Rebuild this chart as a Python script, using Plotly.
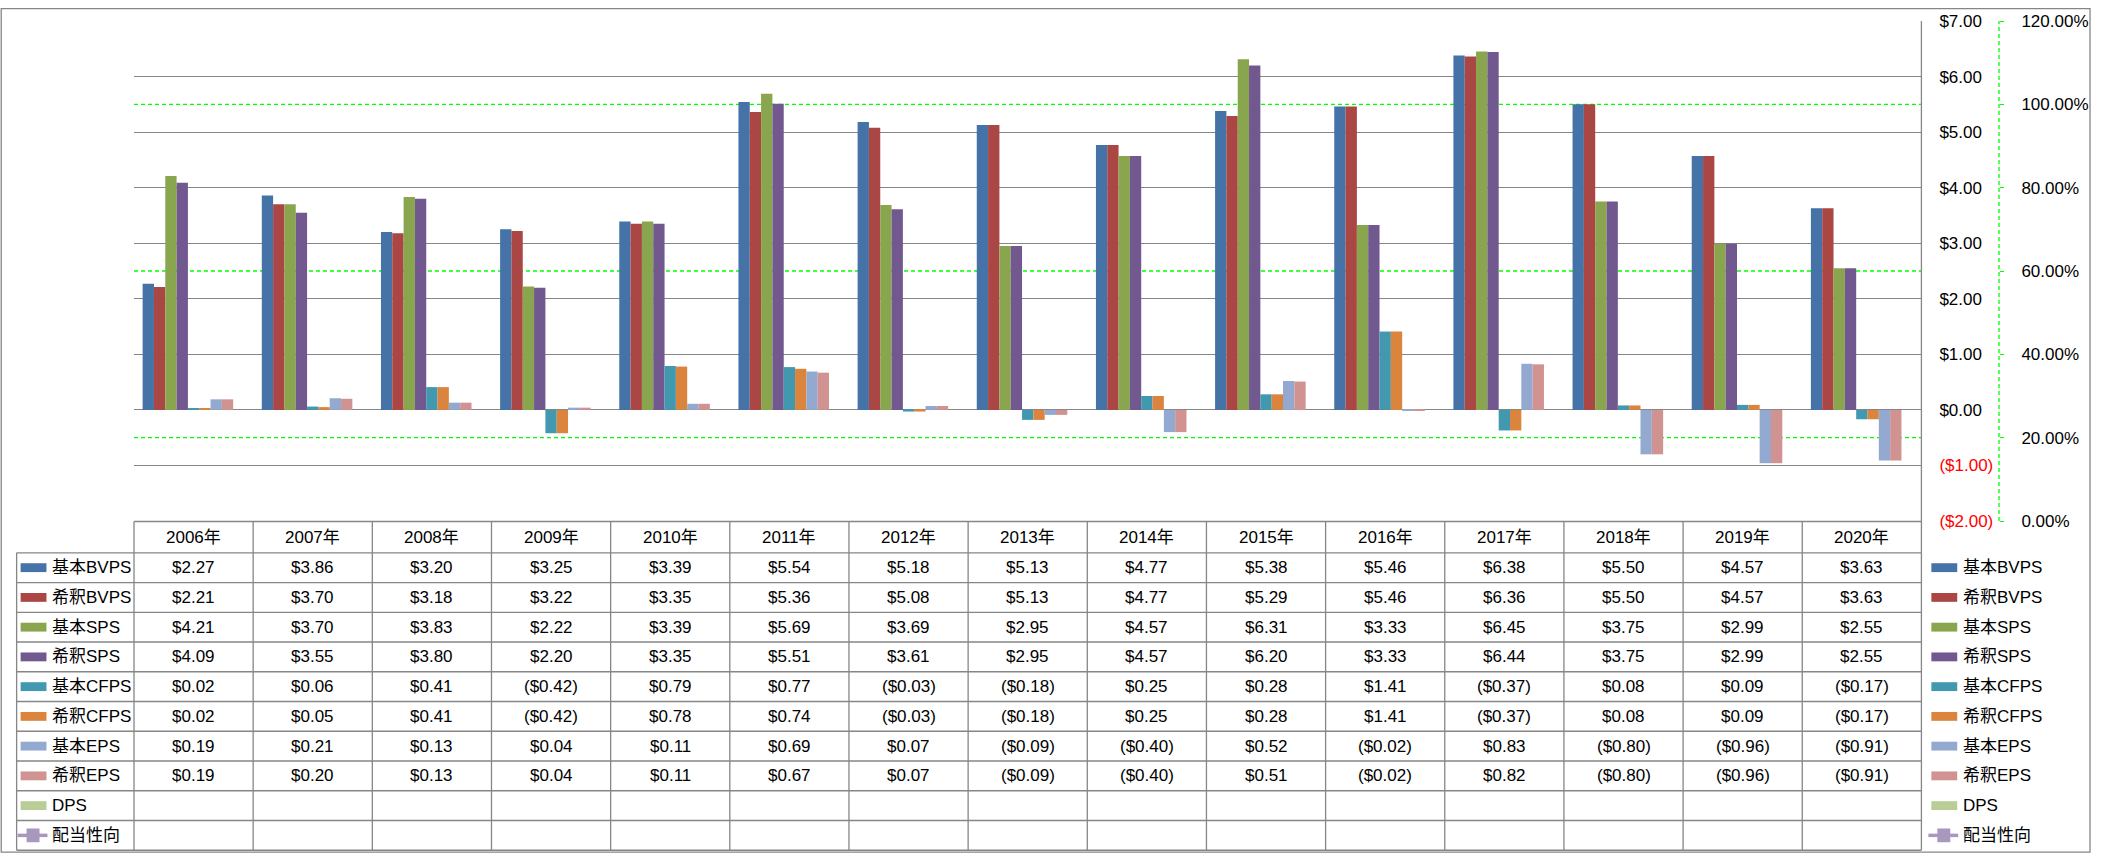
import plotly.graph_objects as go

# ---------------- data ----------------
years = ["2006年", "2007年", "2008年", "2009年", "2010年", "2011年", "2012年", "2013年",
         "2014年", "2015年", "2016年", "2017年", "2018年", "2019年", "2020年"]

basic_bvps = [2.27, 3.86, 3.20, 3.25, 3.39, 5.54, 5.18, 5.13, 4.77, 5.38, 5.46, 6.38, 5.50, 4.57, 3.63]
dil_bvps   = [2.21, 3.70, 3.18, 3.22, 3.35, 5.36, 5.08, 5.13, 4.77, 5.29, 5.46, 6.36, 5.50, 4.57, 3.63]
basic_sps  = [4.21, 3.70, 3.83, 2.22, 3.39, 5.69, 3.69, 2.95, 4.57, 6.31, 3.33, 6.45, 3.75, 2.99, 2.55]
dil_sps    = [4.09, 3.55, 3.80, 2.20, 3.35, 5.51, 3.61, 2.95, 4.57, 6.20, 3.33, 6.44, 3.75, 2.99, 2.55]
basic_cfps = [0.02, 0.06, 0.41, -0.42, 0.79, 0.77, -0.03, -0.18, 0.25, 0.28, 1.41, -0.37, 0.08, 0.09, -0.17]
dil_cfps   = [0.02, 0.05, 0.41, -0.42, 0.78, 0.74, -0.03, -0.18, 0.25, 0.28, 1.41, -0.37, 0.08, 0.09, -0.17]
basic_eps  = [0.19, 0.21, 0.13, 0.04, 0.11, 0.69, 0.07, -0.09, -0.40, 0.52, -0.02, 0.83, -0.80, -0.96, -0.91]
dil_eps    = [0.19, 0.20, 0.13, 0.04, 0.11, 0.67, 0.07, -0.09, -0.40, 0.51, -0.02, 0.82, -0.80, -0.96, -0.91]
dps        = [None] * 15
payout     = [None] * 15

bar_names = ["基本BVPS", "希釈BVPS", "基本SPS", "希釈SPS", "基本CFPS", "希釈CFPS", "基本EPS", "希釈EPS", "DPS"]
bar_values = [basic_bvps, dil_bvps, basic_sps, dil_sps, basic_cfps, dil_cfps, basic_eps, dil_eps, dps]
line_name = "配当性向"

usd_ticks = [-2, -1, 0, 1, 2, 3, 4, 5, 6, 7]
pct_ticks = [0.0, 0.2, 0.4, 0.6, 0.8, 1.0, 1.2]
pct_guides = [0.2, 0.6, 1.0]

# ---------------- styles ----------------
bar_colors = ["#4572A7", "#AA4643", "#89A54E", "#71588F", "#4198AF",
              "#DB843D", "#93A9CF", "#D19392", "#B9CD96"]
line_color = "#A898BE"
grid_color = "#868686"
green = "#00FF00"
FONT = "Liberation Sans, Arial, Noto Sans CJK JP, sans-serif"
FS = 17

W, H = 2101, 858
PL, PR, AX2 = 134, 1931, 2009   # plot left, plot right, secondary axis x (px)
PT, PB = 13, 521                # plot top, plot bottom (px)
XDOM = (PR - PL) / (AX2 - PL)


def px(X):
    return (X - PL) / (AX2 - PL)


def py(Y):
    return (PB - Y) / (PB - PT)


def fmt_usd(v):
    if v is None:
        return ""
    return f"${v:.2f}" if v >= 0 else f"(${-v:.2f})"


fig = go.Figure()
for name, vals, col in zip(bar_names, bar_values, bar_colors):
    fig.add_trace(go.Bar(x=years, y=vals, name=name, marker=dict(color=col, line=dict(width=0)),
                         showlegend=False))
fig.add_trace(go.Scatter(x=years, y=payout, name=line_name, yaxis="y2", mode="lines+markers",
                         line=dict(color=line_color, width=3), showlegend=False))

shapes = []
annotations = []

# green guide lines (secondary axis)
for g in pct_guides:
    shapes.append(dict(type="line", xref="paper", yref="y2", x0=0, x1=XDOM, y0=g, y1=g,
                       line=dict(color=green, width=1.3, dash="4px,3px"), layer="below"))
# secondary axis line (dashed green)
shapes.append(dict(type="line", xref="paper", yref="paper", x0=1, x1=1, y0=0, y1=1,
                   line=dict(color=green, width=1.3, dash="4px,3px")))

# ---------------- data table ----------------
HDR_T, HDR_B, BOT = 521.5, 553.3, 855.5
n_rows = 10
ROW_H = (BOT - HDR_B) / n_rows
ncol = len(years)
col_w = (PR - PL) / ncol
LEG_L = 16
line_sty = dict(color=grid_color, width=1.3)

# horizontal lines
shapes.append(dict(type="line", xref="paper", yref="paper", x0=px(PL), x1=px(PR),
                   y0=py(HDR_T), y1=py(HDR_T), line=line_sty))
for j in range(n_rows + 1):
    Y = HDR_B + j * ROW_H
    shapes.append(dict(type="line", xref="paper", yref="paper", x0=px(LEG_L), x1=px(PR),
                       y0=py(Y), y1=py(Y), line=line_sty))
# vertical lines
shapes.append(dict(type="line", xref="paper", yref="paper", x0=px(LEG_L), x1=px(LEG_L),
                   y0=py(HDR_B), y1=py(BOT), line=line_sty))
for k in range(ncol):
    X = PL + k * col_w
    shapes.append(dict(type="line", xref="paper", yref="paper", x0=px(X), x1=px(X),
                       y0=py(HDR_T), y1=py(BOT), line=line_sty))
shapes.append(dict(type="line", xref="paper", yref="paper", x0=px(PR), x1=px(PR),
                   y0=py(PT), y1=py(BOT), line=line_sty))

txt_font = dict(family=FONT, size=FS, color="#000000")
# header
for yr in years:
    annotations.append(dict(x=yr, xref="x", y=py((HDR_T + HDR_B) / 2), yref="paper", text=yr,
                            showarrow=False, xanchor="center", yanchor="middle", font=txt_font))
# values
all_names = bar_names + [line_name]
all_values = bar_values + [payout]
for i, (name, vals) in enumerate(zip(all_names, all_values)):
    yc = py(HDR_B + (i + 0.5) * ROW_H)
    for yr, v in zip(years, vals):
        t = fmt_usd(v)
        if t:
            annotations.append(dict(x=yr, xref="x", y=yc, yref="paper", text=t, showarrow=False,
                                    xanchor="center", yanchor="middle", font=txt_font))

# legends (left inside table, right outside)
for sx, tx in [(20, 50), (1941, 1970.7)]:
    for i, name in enumerate(all_names):
        Yc = HDR_B + (i + 0.5) * ROW_H
        if i < len(bar_names):
            shapes.append(dict(type="rect", xref="paper", yref="paper", x0=px(sx), x1=px(sx + 26),
                               y0=py(Yc + 4.5), y1=py(Yc - 4.5), fillcolor=bar_colors[i],
                               line=dict(width=0)))
        else:
            shapes.append(dict(type="line", xref="paper", yref="paper", x0=px(sx - 3), x1=px(sx + 27),
                               y0=py(Yc), y1=py(Yc), line=dict(color=line_color, width=3.5)))
            shapes.append(dict(type="rect", xref="paper", yref="paper", x0=px(sx + 6), x1=px(sx + 19),
                               y0=py(Yc + 7), y1=py(Yc - 7), fillcolor=line_color,
                               line=dict(width=0)))
        annotations.append(dict(x=px(tx), xref="paper", y=py(Yc), yref="paper", text=name,
                                showarrow=False, xanchor="left", yanchor="middle", font=txt_font))

# outer border
shapes.append(dict(type="rect", xref="paper", yref="paper", x0=px(0.5), x1=px(2100.5),
                   y0=py(857.5), y1=py(0.5), line=dict(color=grid_color, width=1.3),
                   fillcolor="rgba(0,0,0,0)"))

usd_text = [fmt_usd(v) if v >= 0 else f'<span style="color:#FF0000">{fmt_usd(v)}</span>'
            for v in usd_ticks]

fig.update_layout(
    width=W, height=H,
    margin=dict(l=PL, r=W - AX2, t=PT, b=H - PB, pad=0),
    paper_bgcolor="white", plot_bgcolor="white",
    barmode="group", bargap=0.145, bargroupgap=0,
    font=dict(family=FONT, size=FS, color="#000000"),
    xaxis=dict(domain=[0, XDOM], type="category", range=[-0.5, ncol - 0.5],
               showticklabels=False, showgrid=False, zeroline=False, showline=False, ticks=""),
    yaxis=dict(range=[-2, 7], side="right", tickvals=usd_ticks, ticktext=usd_text,
               showgrid=True, gridcolor=grid_color, gridwidth=1.3, zeroline=False,
               showline=False, ticks="", ticklabelstandoff=17,
               tickfont=dict(family=FONT, size=FS, color="#000000")),
    yaxis2=dict(range=[0, 1.2], overlaying="y", side="right", anchor="free", position=1,
                tickvals=pct_ticks, tickformat=".2%", showgrid=False, zeroline=False,
                showline=False, ticks="outside", ticklen=4, tickcolor=green, tickwidth=1.3,
                ticklabelstandoff=14, tickfont=dict(family=FONT, size=FS, color="#000000")),
    shapes=shapes, annotations=annotations,
)

fig.write_html("out.html")
